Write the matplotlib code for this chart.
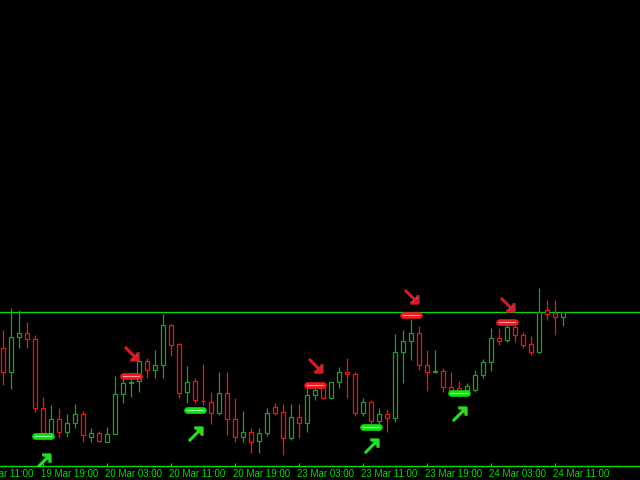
import numpy as np
import matplotlib
matplotlib.use('Agg')
import matplotlib.pyplot as plt
import matplotlib.transforms as mtransforms
from matplotlib.patches import Rectangle
from matplotlib.path import Path

# hourly candles, price in chart points
opens  = [132, 108, 143, 147, 141, 72, 47, 61, 48, 57, 66, 43, 47, 38, 46, 86, 97, 99, 119, 110,
          115, 155, 136, 88, 99, 79.5, 78, 67, 87, 61, 43, 48, 39, 47, 73, 68, 42, 63, 57, 85,
          93, 82, 98, 108, 106, 67, 78, 59, 66, 62, 128, 139, 147, 115, 108, 109, 93, 92, 90, 90,
          105, 118, 142, 140, 153, 145, 136, 128, 170, 167, 163]
highs  = [150, 172, 170, 158, 145, 83, 75, 72, 66, 76, 69, 52, 49, 53, 104, 106, 102, 120, 122, 130,
          166, 156, 137, 114, 102, 116, 88, 108, 108, 82, 69, 52, 52, 72, 77, 76, 76, 76, 95, 93,
          95, 98, 113, 122, 108, 82, 80, 72, 71, 146, 150, 161, 154, 130, 130, 112, 108, 99, 97, 110,
          121, 152, 152, 157, 160, 148, 144, 192, 180, 180, 168]
lows   = [95, 91, 132, 132, 68, 40, 43, 42, 43, 52, 38, 38, 38, 38, 46, 77, 83, 88, 102, 102,
          102, 124, 82, 77, 77, 75, 56, 65, 45, 38, 38, 27, 27, 44, 65, 25, 40, 42, 48, 80,
          81, 81, 92, 82, 64, 64, 56, 55, 48, 58, 97, 120, 110, 89, 107, 88, 87, 88, 88, 88,
          102, 109, 135, 138, 138, 132, 125, 127, 160, 145, 154]
closes = [108, 143, 147, 141, 72, 47, 61, 48, 57, 66, 45, 47, 39, 46, 86, 97, 98, 119, 110, 115,
          155, 135, 87, 98, 80, 79, 67, 87, 61, 43, 48, 38, 47, 67, 67, 42, 63, 57, 85, 90,
          82, 98, 108, 106, 67, 78, 59, 66, 62, 128, 139, 147, 115, 108, 109, 93, 88, 88, 94, 105,
          118, 142, 139, 153, 145, 135, 128, 168, 166, 163, 168]

level = 168

# signals: candle index, marker level, arrow level
buy_idx = [5, 24, 46, 57]
buy_lvl = [44, 70, 53, 87]
buy_arrow = [19.5, 46.5, 34.5, 66.5]
sell_idx = [16, 39, 51, 63]
sell_lvl = [104, 95, 165.5, 158.5]
sell_arrow = [127.5, 115.5, 184.5, 176.5]

tick_idx = [-3, 5, 13, 21, 29, 37, 45, 53, 61, 69]
tick_lbl = ['19 Mar 11:00', '19 Mar 19:00', '20 Mar 03:00', '20 Mar 11:00', '20 Mar 19:00',
            '23 Mar 03:00', '23 Mar 11:00', '23 Mar 19:00', '24 Mar 03:00', '24 Mar 11:00']

bull = '#2e962e'
bear = '#e81818'
fg = '#00e000'

fig = plt.figure(figsize=(6.4, 4.8), dpi=100, facecolor='black')
ax = fig.add_axes([0, 14/480, 1, 466/480])
ax.set_facecolor('black')

w = 0.5
for i in range(len(opens)):
    o, h, l, c = opens[i], highs[i], lows[i], closes[i]
    col = bull if c >= o else bear
    ax.vlines(i, l, h, color=col, lw=0.9, zorder=2)
    lo, hi = min(o, c), max(o, c)
    ax.add_patch(Rectangle((i - w/2, lo), w, max(hi - lo, 0.3), facecolor='black',
                           edgecolor=col, lw=0.9, zorder=3))

ax.axhline(level, color=fg, lw=0.9, zorder=1)

# arrow shapes
dn_path = Path([(-0.5, 0.5), (0.5, -0.5), (-0.1, -0.5), (0.5, -0.5), (0.5, 0.1)],
               [Path.MOVETO, Path.LINETO, Path.MOVETO, Path.LINETO, Path.LINETO])
up_path = Path([(-0.5, -0.5), (0.5, 0.5), (-0.1, 0.5), (0.5, 0.5), (0.5, -0.1)],
               [Path.MOVETO, Path.LINETO, Path.MOVETO, Path.LINETO, Path.LINETO])

for i, y, ya in zip(buy_idx, buy_lvl, buy_arrow):
    ax.plot([i - 1, i + 1], [y, y], color='#10e010', lw=4.8, solid_capstyle='round', zorder=5)
    ax.plot([i - 1, i + 1], [y, y], color='#a0ffa0', lw=0.8, zorder=6)
    ax.plot(i, ya, marker=up_path, ms=9.5, mew=2.2, mec='#22e022', ls='none', zorder=5)

for i, y, ya in zip(sell_idx, sell_lvl, sell_arrow):
    ax.plot([i - 1, i + 1], [y, y], color='#f01820', lw=4.8, solid_capstyle='round', zorder=5)
    ax.plot([i - 1, i + 1], [y, y], color='#ff9a9a', lw=0.8, zorder=6)
    ax.plot(i, ya, marker=dn_path, ms=9.5, mew=2.2, mec='#d41c26', ls='none', zorder=5)

for s in ['top', 'right', 'left']:
    ax.spines[s].set_visible(False)
ax.spines['bottom'].set_color(fg)
ax.spines['bottom'].set_linewidth(1)
ax.set_yticks([])
ax.set_xticks(tick_idx)
ax.set_xticklabels([])
ax.tick_params(axis='x', direction='in', length=2.5, width=0.8, color=fg)
ax.set_xlim(-2.7/8, (640-2.7)/8)
ax.set_ylim(14, 480)

# time labels (first one runs off the left edge, as in the terminal)
trans = mtransforms.offset_copy(ax.get_xaxis_transform(), fig=fig, x=-1, y=-2, units='points')
for i, s in zip(tick_idx, tick_lbl):
    ax.text(i, 0, s, transform=trans, ha='left', va='top', fontsize=7, color=fg,
            family=['Liberation Sans Narrow', 'Liberation Sans'], clip_on=False)

fig.savefig('out.png', dpi=100, facecolor='black')
